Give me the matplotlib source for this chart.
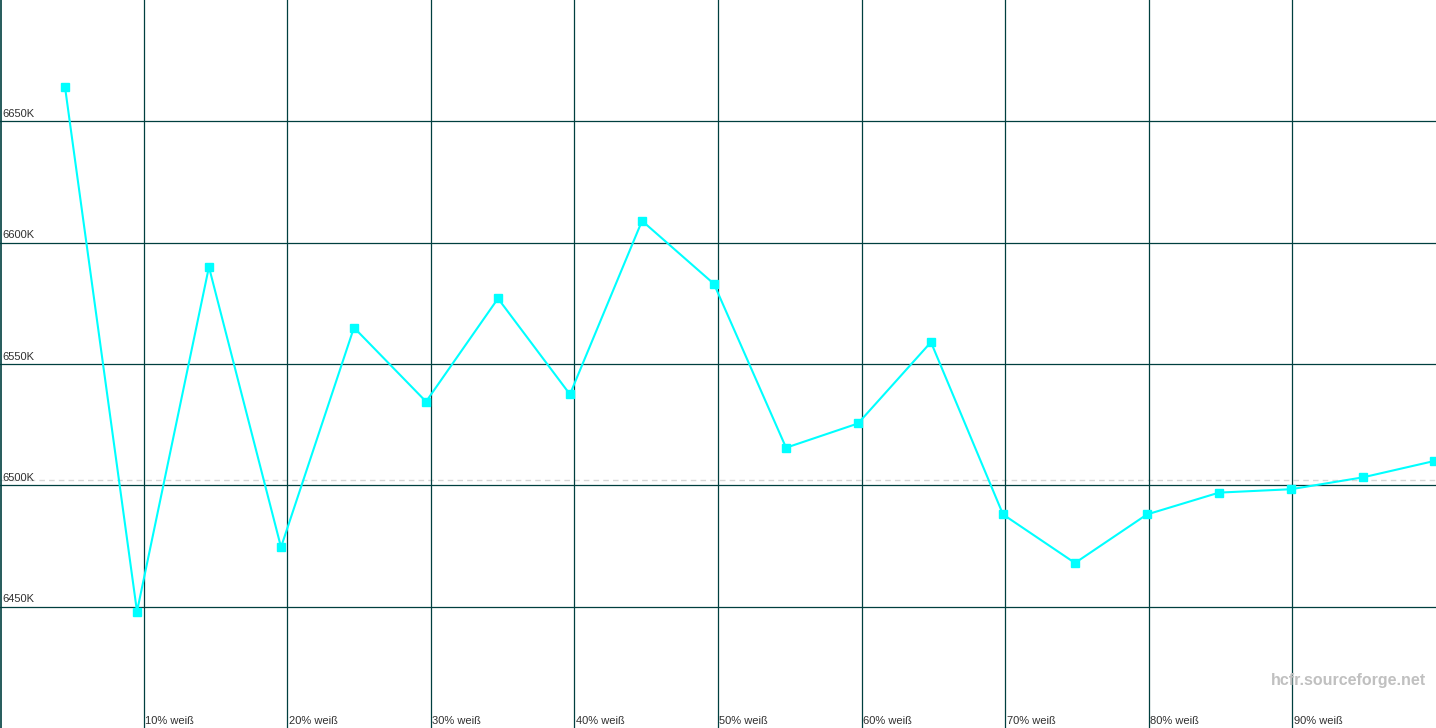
import matplotlib.pyplot as plt

# grayscale steps (percent position along the axis) and measured colour temperature
x_pos = [4.53, 9.54, 14.55, 19.57, 24.65, 29.67, 34.68, 39.69, 44.71, 49.72,
         54.74, 59.75, 64.83, 69.85, 74.86, 79.87, 84.89, 89.90, 94.92, 99.86]
temps = [6664, 6448, 6590, 6474.5, 6565, 6534.5, 6577, 6537.5, 6609, 6583,
         6515.5, 6525.5, 6559, 6488, 6468, 6488, 6497, 6498.4, 6503.3, 6510]

x_ticks = [10, 20, 30, 40, 50, 60, 70, 80, 90]
x_labels = [f'{t}% weiß' for t in x_ticks]
y_ticks = [6450, 6500, 6550, 6600, 6650]
y_labels = [f'{t}K' for t in y_ticks]
ref_temp = 6502

GRID = '#003f3f'
LINE = '#00ffff'
TXT = '#303030'

fig = plt.figure(figsize=(14.36, 7.28), dpi=100)
ax = fig.add_axes([0, 0, 1, 1])
ax.set_xlim(0, 100)
ax.set_ylim(6400, 6700)
ax.axis('off')

# reference dashed line
ax.axhline(ref_temp, color='#d8d8d8', lw=1, ls=(0, (4, 3)), zorder=1)

for t in y_ticks:
    ax.axhline(t, color=GRID, lw=0.9, zorder=2)
for t in x_ticks:
    ax.axvline(t, color=GRID, lw=0.9, zorder=2)
ax.axvline(0.04, color=GRID, lw=1.2, zorder=2)

for t, lab in zip(y_ticks, y_labels):
    ax.text(0.2, t + 0.9, lab, ha='left', va='bottom', fontsize=8,
            family='Liberation Sans', color=TXT, zorder=3)
for t, lab in zip(x_ticks, x_labels):
    ax.text(t + 0.1, 6400.8, lab, ha='left', va='bottom', fontsize=8,
            family='Liberation Sans', color=TXT, zorder=3)

ax.plot(x_pos, temps, color=LINE, lw=1.5, marker='s', markersize=5.8,
        markerfacecolor=LINE, markeredgecolor=LINE, zorder=4, clip_on=True)

ax.text(99.3, 6417.7, 'hcfr.sourceforge.net', ha='right', va='baseline',
        fontsize=11.5, fontweight='bold', family='Liberation Sans',
        color='#c0c0c0', zorder=3)

fig.savefig('out.png', dpi=100)
